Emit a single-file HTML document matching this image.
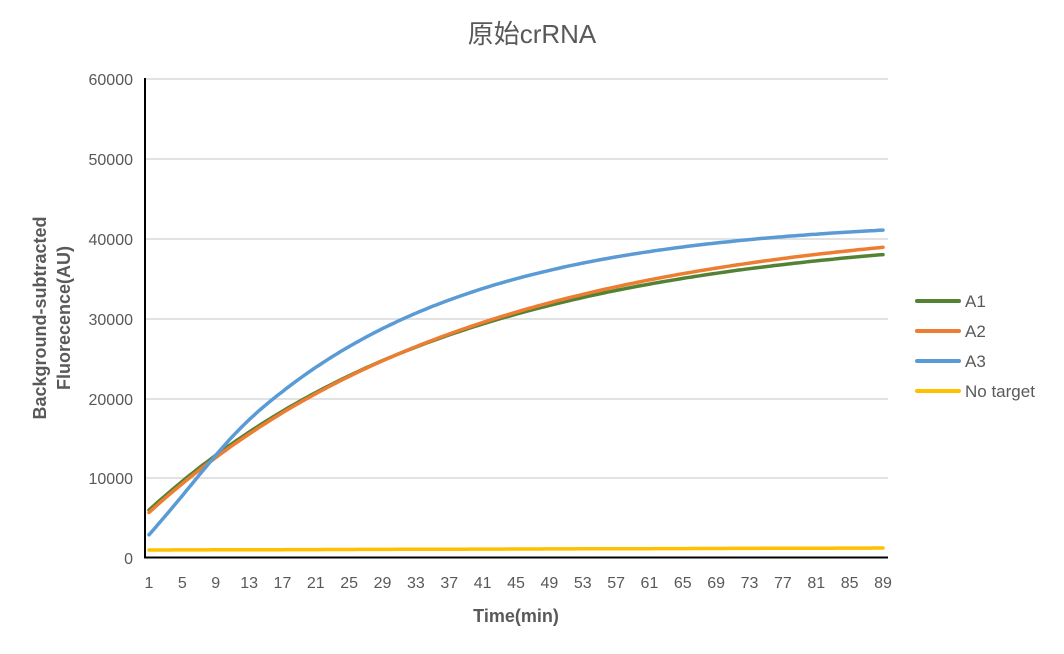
<!DOCTYPE html>
<html><head><meta charset="utf-8"><style>
body{margin:0;background:#fff;}
svg{display:block;font-family:"Liberation Sans","Noto Sans CJK SC",sans-serif;}
</style></head><body>
<svg id="s" width="1064" height="654" viewBox="0 0 1064 654">
<text x="532" y="43" font-size="26" fill="#595959" text-anchor="middle">原始crRNA</text>
<g stroke="#d9d9d9" stroke-width="1.5">
<line x1="146" x2="888" y1="79" y2="79"/><line x1="146" x2="888" y1="159" y2="159"/>
<line x1="146" x2="888" y1="239" y2="239"/><line x1="146" x2="888" y1="319" y2="319"/>
<line x1="146" x2="888" y1="399" y2="399"/><line x1="146" x2="888" y1="478" y2="478"/>
</g>
<g font-size="16" fill="#595959" text-anchor="end">
<text x="133" y="85">60000</text><text x="133" y="165">50000</text><text x="133" y="245">40000</text>
<text x="133" y="325">30000</text><text x="133" y="405">20000</text><text x="133" y="484">10000</text>
<text x="133" y="564">0</text>
</g>
<g id="xt" font-size="16" fill="#595959" text-anchor="middle"></g>
<g id="lines" fill="none" stroke-width="3.5" stroke-linecap="round" stroke-linejoin="round"></g>
<line x1="145" y1="78" x2="145" y2="558" stroke="#000" stroke-width="2"/>
<line x1="144" y1="557.5" x2="888" y2="557.5" stroke="#000" stroke-width="2"/>
<text x="516" y="622" font-size="18" font-weight="bold" fill="#595959" text-anchor="middle">Time(min)</text>
<text transform="translate(46,318) rotate(-90)" font-size="18" font-weight="bold" fill="#595959" text-anchor="middle">Background-subtracted</text>
<text transform="translate(70,318) rotate(-90)" font-size="18" font-weight="bold" fill="#595959" text-anchor="middle">Fluorecence(AU)</text>
<g stroke-width="4" stroke-linecap="round">
<line x1="917" x2="959" y1="301" y2="301" stroke="#548235"/>
<line x1="917" x2="959" y1="331" y2="331" stroke="#ed7d31"/>
<line x1="917" x2="959" y1="361" y2="361" stroke="#5b9bd5"/>
<line x1="917" x2="959" y1="391" y2="391" stroke="#ffc000"/>
</g>
<g font-size="17" fill="#595959">
<text x="965" y="307">A1</text><text x="965" y="337">A2</text><text x="965" y="367">A3</text><text x="965" y="397">No target</text>
</g>
</svg>
<script>
var X=function(t){return 149+(t-1)*(734/88);},Y=function(v){return 558-v/60000*479;};
var xt=document.getElementById('xt'),h='';
for(var t=1;t<=89;t+=4)h+='<text x="'+X(t)+'" y="588">'+t+'</text>';
xt.innerHTML=h;
function sat(b,A,tau){return function(t){return b+A*(1-Math.exp(-(t-1)/tau));};}
var a3=sat(2900,39600,26.5);
var S=[
["#ffc000",function(t){return 1000+250*(t-1)/88;}],
["#548235",sat(6000,35280,37)],
["#ed7d31",sat(5700,37100,39)],
["#5b9bd5",function(t){var v=a3(t),l=2900+1200*(t-1);var u=Math.min(Math.max((t-1)/16,0),1);var w=u*u*(3-2*u);return l*(1-w)+v*w;}]];
var g='';
S.forEach(function(s){
 var p=[];
 for(var t=1;t<=89;t+=0.5)p.push(X(t).toFixed(1)+','+Y(s[1](t)).toFixed(1));
 g+='<polyline stroke="'+s[0]+'" points="'+p.join(' ')+'"/>';
});
document.getElementById('lines').innerHTML=g;
</script>
</body></html>
